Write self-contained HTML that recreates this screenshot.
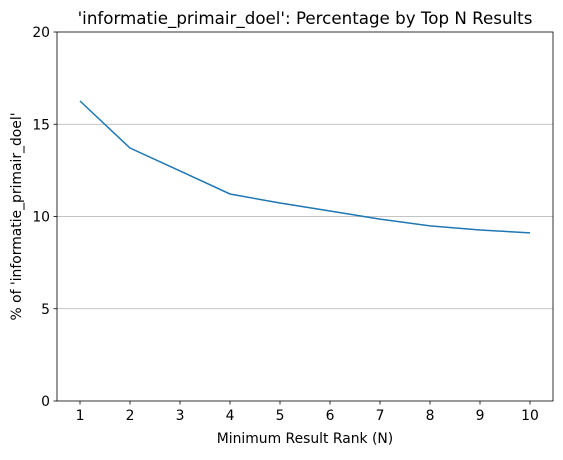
<!DOCTYPE html>
<html><head><meta charset="utf-8"><style>
body{margin:0;background:#fff;}
svg{font-family:"DejaVu Sans","Liberation Sans",sans-serif;}
</style></head><body>
<svg id="chart" width="563" height="455" xmlns="http://www.w3.org/2000/svg"></svg>
<script>
const categories=[1,2,3,4,5,6,7,8,9,10];
const values=[16.26,13.71,12.47,11.22,10.73,10.30,9.86,9.49,9.27,9.11];
const yTicks=[0,5,10,15,20];
const svg=document.getElementById('chart');
const NS='http://www.w3.org/2000/svg';
const L=57,R=553,T=32,B=401;
const xS=v=>80+(v-1)*50;
const yS=v=>B-(v/20)*(B-T);
function mk(tag,attrs,txt){const e=document.createElementNS(NS,tag);for(const k in attrs)e.setAttribute(k,attrs[k]);if(txt!==undefined)e.textContent=txt;svg.appendChild(e);return e;}
yTicks.forEach(t=>{
 const y=yS(t);
 if(t>0&&t<20){const g=mk('line',{x1:L,x2:R,y1:y,y2:y,stroke:'#b0b0b0','stroke-width':0.8});
 
 }
 mk('line',{x1:L-3.5,x2:L,y1:y,y2:y,stroke:'#000','stroke-width':0.8});
 const tx=mk('text',{x:L-7,y:y+5,'text-anchor':'end','font-size':13.9},t);
 
 
});
categories.forEach(c=>{
 const x=xS(c);
 mk('line',{x1:x,x2:x,y1:B,y2:B+3.5,stroke:'#000','stroke-width':0.8});
 const tx=mk('text',{x:x,y:B+19,'text-anchor':'middle','font-size':13.9},c);
 
 
});
const pts=categories.map((c,i)=>xS(c)+','+yS(values[i])).join(' ');
const line=mk('polyline',{points:pts,fill:'none',stroke:'#1f77b4','stroke-width':1.5});


const fr=mk('rect',{x:L,y:T,width:R-L,height:B-T,fill:'none',stroke:'#000','stroke-width':0.8});


const ti=mk('text',{x:(L+R)/2,y:T-8,'text-anchor':'middle','font-size':16.7},"'informatie_primair_doel': Percentage by Top N Results");


const xt=mk('text',{x:(L+R)/2,y:443,'text-anchor':'middle','font-size':13.9},"Minimum Result Rank (N)");


const yt=mk('text',{x:0,y:0,'text-anchor':'middle','font-size':13.9,transform:'translate(21,'+((T+B)/2)+') rotate(-90)'},"% of 'informatie_primair_doel'");


</script>
</body></html>
